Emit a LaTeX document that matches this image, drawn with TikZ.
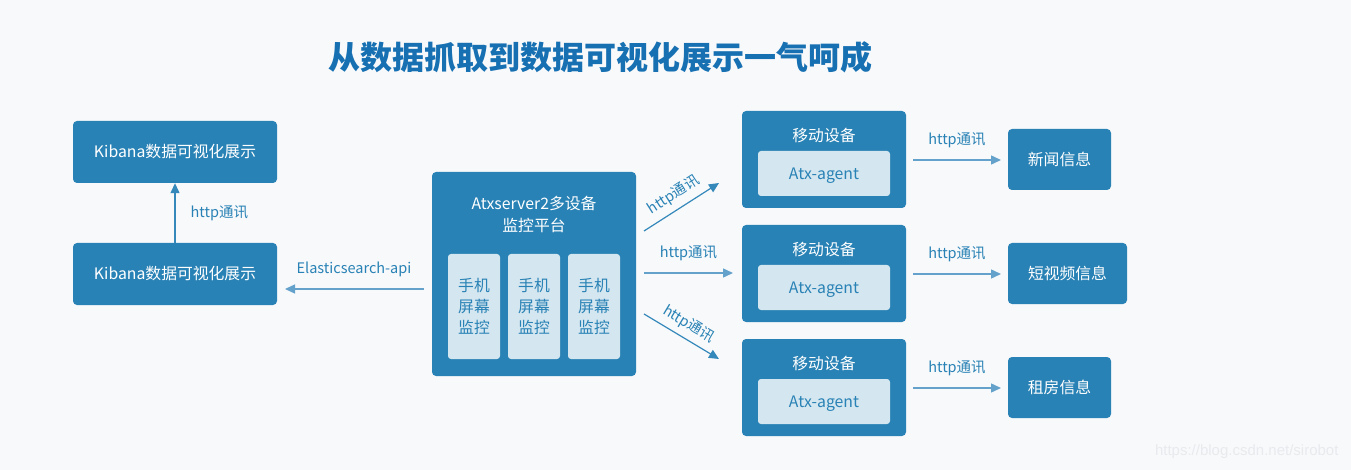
\documentclass[tikz,border=0pt]{standalone}
\usepackage{fontspec}
\setmainfont{Noto Sans CJK SC}
\newfontfamily\wmfont{Liberation Sans}
\usetikzlibrary{arrows.meta}
\definecolor{bg}{RGB}{248,249,251}
\definecolor{boxblue}{RGB}{41,130,181}
\definecolor{lightbox}{RGB}{212,230,240}
\definecolor{titleblue}{RGB}{22,112,178}
\definecolor{arrowblue}{RGB}{52,136,186}
\definecolor{arrowlight}{RGB}{100,162,204}
\definecolor{wm}{RGB}{232,234,238}
\tikzset{
  darkbox/.style={fill=boxblue, draw=none, rounded corners=4pt, text=white, font=\fontsize{15.8}{21}\selectfont, align=center, inner sep=0pt},
  litebox/.style={fill=lightbox, draw=none, rounded corners=3pt, text=boxblue, font=\fontsize{15.8}{21}\selectfont, align=center, inner sep=0pt},
  lbl/.style={text=boxblue, font=\fontsize{14.5}{16}\selectfont, inner sep=1pt},
  arr/.style={draw=arrowblue, line width=1.2pt, -{Triangle[length=10pt,width=9pt]}},
  arrl/.style={draw=arrowlight, line width=1.4pt, -{Triangle[length=10pt,width=9pt]}, arrowlight},
}
\begin{document}
\begin{tikzpicture}[x=1pt,y=-1pt]
\fill[bg] (0,0) rectangle (1351,470);
\useasboundingbox (0,0) rectangle (1351,470);

\node[text=titleblue, font=\fontsize{32}{36}\selectfont\bfseries] (title) at (600,57) {从数据抓取到数据可视化展示一气呵成};

% left
\node[darkbox, minimum width=204pt, minimum height=62pt] (kib1) at (175,152) {Kibana数据可视化展示};
\node[darkbox, minimum width=204pt, minimum height=62pt] (kib2) at (175,274) {Kibana数据可视化展示};
\draw[arr] (kib2.north) -- (kib1.south) node[midway, right=14pt, lbl] {http通讯};

% center
\node[darkbox, minimum width=204pt, minimum height=204pt] (srv) at (534,274) {};
\node[text=white, font=\fontsize{15.8}{22}\selectfont, align=center] (srvt) at (534,214) {Atxserver2多设备\\监控平台};
\node[litebox, minimum width=52pt, minimum height=105pt] (m1) at (474,306.5) {手机\\屏幕\\监控};
\node[litebox, minimum width=52pt, minimum height=105pt] (m2) at (534,306.5) {手机\\屏幕\\监控};
\node[litebox, minimum width=52pt, minimum height=105pt] (m3) at (594,306.5) {手机\\屏幕\\监控};

\coordinate (esend) at (285,289);
\draw[arrl] (424,289) coordinate (esstart) -- (esend);
\node[lbl] (eslbl) at (354,269) {Elasticsearch-api};

% devices
\foreach \i/\y in {1/159.5, 2/273.5, 3/387.5} {
  \node[darkbox, minimum width=164pt, minimum height=97pt] (dev\i) at (824,\y) {};
  \node[text=white, font=\fontsize{15.8}{20}\selectfont] (devt\i) at (824,\y-24) {移动设备};
  \node[litebox, minimum width=132pt, minimum height=45pt] (ag\i) at (824,\y+14) {};
  \node[text=boxblue, font=\fontsize{15.8}{20}\selectfont] (agt\i) at (824,\y+16) {Atx-agent};
}

% arrows from server
\coordinate (a1s) at (644,231); \coordinate (a1e) at (719,183);
\coordinate (a2s) at (644,273); \coordinate (a2e) at (733,273);
\coordinate (a3s) at (644,314); \coordinate (a3e) at (719,359);
\draw[arr] (a1s) -- (a1e) node[midway, above=5pt, sloped, lbl] {http通讯};
\draw[arrl] (a2s) -- (a2e) node[midway, above=10pt, lbl] {http通讯};
\draw[arr] (a3s) -- (a3e) node[midway, above=5pt, sloped, lbl] {http通讯};

% info boxes
\node[darkbox, minimum width=103pt, minimum height=61pt] (info1) at (1059.5,159.5) {新闻信息};
\node[darkbox, minimum width=119pt, minimum height=61pt] (info2) at (1067.5,273.5) {短视频信息};
\node[darkbox, minimum width=103pt, minimum height=61pt] (info3) at (1059.5,387.5) {租房信息};

\foreach \i/\y in {1/160, 2/274, 3/388} {
  \draw[arrl] (913,\y) -- (1001,\y) node[midway, above=10pt, lbl] {http通讯};
}

\node[text=wm, font=\fontsize{15}{17}\selectfont\wmfont, anchor=east] (wmk) at (1342,452) {https://blog.csdn.net/sirobot};
\end{tikzpicture}
\end{document}
